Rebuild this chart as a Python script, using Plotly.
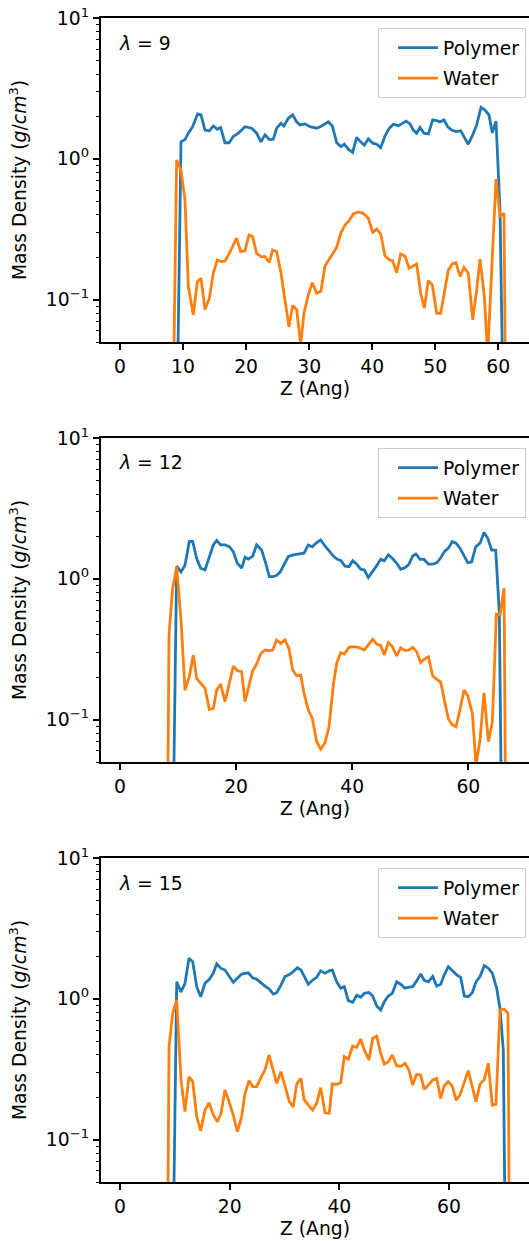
import plotly.graph_objects as go

# ---------------- density profiles (Z in Angstrom, density in g/cm^3) ----------------
# lambda = 9
z_poly_9 = [8.99, 9.68, 10.31, 10.84, 11.52, 12.32, 12.85, 13.48, 14.17, 14.80, 15.43, 15.97, 16.65, 17.29,
            17.97, 18.77, 19.83, 20.88, 21.68, 22.36, 23.00, 23.68, 24.32, 24.85, 25.54, 26.00, 26.70, 27.39,
            28.02, 28.55, 29.34, 30.13, 31.20, 31.99, 33.04, 33.68, 34.37, 35.05, 35.58, 36.21, 36.90, 37.54,
            38.17, 38.75, 39.39, 40.08, 40.71, 41.35, 42.03, 42.72, 43.35, 44.14, 44.68, 45.36, 46.00, 46.52,
            47.06, 47.58, 48.22, 48.90, 49.60, 50.23, 50.75, 51.39, 51.97, 52.61, 53.29, 54.04, 54.61, 55.24,
            55.94, 56.57, 57.26, 57.89, 58.52, 59.05, 59.64, 60.27, 60.86]
rho_poly_9 = [0.01, 1.32, 1.37, 1.52, 1.69, 2.08, 2.05, 1.60, 1.58, 1.71, 1.62, 1.67, 1.30, 1.30,
              1.44, 1.52, 1.69, 1.65, 1.52, 1.32, 1.48, 1.37, 1.38, 1.65, 1.79, 1.71, 1.94, 2.05,
              1.83, 1.74, 1.77, 1.69, 1.65, 1.71, 1.83, 1.71, 1.30, 1.22, 1.27, 1.17, 1.11, 1.42,
              1.32, 1.25, 1.39, 1.29, 1.27, 1.20, 1.45, 1.65, 1.76, 1.72, 1.77, 1.85, 1.77, 1.60,
              1.52, 1.67, 1.52, 1.50, 1.89, 1.87, 1.83, 1.89, 1.69, 1.60, 1.56, 1.58, 1.42, 1.27,
              1.48, 1.74, 2.32, 2.22, 2.05, 1.53, 1.85, 0.43, 0.01]
z_water_9 = [8.35, 8.99, 9.68, 10.31, 10.84, 11.63, 12.27, 12.85, 13.48, 14.17, 14.80, 15.43, 16.12, 16.65,
             17.34, 17.97, 18.50, 19.14, 19.83, 20.46, 21.04, 21.68, 22.36, 23.00, 23.68, 24.21, 24.85, 25.54,
             26.17, 26.80, 27.39, 28.02, 28.66, 29.18, 29.87, 30.50, 31.20, 31.88, 32.51, 33.20, 33.83, 34.37,
             35.05, 35.69, 36.32, 37.00, 37.80, 38.59, 39.39, 40.08, 40.71, 41.35, 42.03, 42.72, 43.25, 43.88,
             44.52, 45.20, 45.84, 46.52, 47.06, 47.69, 48.27, 48.90, 49.54, 50.23, 50.86, 51.44, 52.07, 52.71,
             53.29, 53.93, 54.56, 55.24, 55.94, 56.57, 57.10, 57.79, 58.31, 59.64, 60.27, 60.90, 61.22]
rho_water_9 = [0.01, 0.98, 0.83, 0.51, 0.124, 0.078, 0.134, 0.142, 0.085, 0.102, 0.154, 0.191, 0.186, 0.188,
               0.213, 0.244, 0.273, 0.219, 0.222, 0.288, 0.280, 0.213, 0.202, 0.202, 0.184, 0.225, 0.219, 0.154,
               0.100, 0.064, 0.091, 0.085, 0.048, 0.080, 0.108, 0.132, 0.111, 0.115, 0.173, 0.193, 0.215, 0.235,
               0.299, 0.339, 0.363, 0.406, 0.419, 0.410, 0.378, 0.300, 0.317, 0.292, 0.205, 0.191, 0.189, 0.155,
               0.211, 0.204, 0.167, 0.174, 0.179, 0.111, 0.087, 0.136, 0.127, 0.080, 0.080, 0.112, 0.162, 0.179,
               0.183, 0.146, 0.169, 0.154, 0.072, 0.117, 0.194, 0.105, 0.040, 0.719, 0.392, 0.410, 0.01]

# lambda = 12
z_poly_12 = [9.07, 9.76, 10.51, 11.20, 11.94, 12.52, 13.20, 13.90, 14.64, 15.39, 16.08, 16.65, 17.34, 18.09,
             18.83, 19.52, 20.21, 20.96, 21.53, 22.10, 22.86, 23.54, 24.40, 25.10, 25.72, 26.41, 26.99, 27.56,
             28.31, 29.00, 29.86, 30.72, 31.70, 32.44, 33.13, 33.88, 34.57, 35.31, 36.06, 36.75, 37.44, 38.07,
             38.76, 39.45, 40.08, 40.77, 41.46, 42.09, 42.78, 43.53, 44.22, 44.91, 45.53, 46.22, 46.91, 47.66,
             48.35, 49.10, 49.78, 50.42, 50.99, 51.68, 52.37, 53.11, 53.87, 54.56, 55.25, 55.87, 56.56, 57.25,
             57.88, 58.57, 59.26, 59.90, 60.58, 61.27, 62.02, 62.70, 63.34, 64.03, 64.72, 65.34, 65.80]
rho_poly_12 = [0.01, 1.23, 1.12, 1.25, 1.84, 1.84, 1.40, 1.19, 1.155, 1.44, 1.74, 1.87, 1.74, 1.74,
               1.69, 1.56, 1.29, 1.19, 1.42, 1.38, 1.45, 1.74, 1.60, 1.29, 1.035, 1.035, 1.06, 1.11,
               1.29, 1.44, 1.48, 1.50, 1.52, 1.74, 1.69, 1.81, 1.89, 1.71, 1.56, 1.45, 1.375, 1.345,
               1.23, 1.22, 1.345, 1.27, 1.17, 1.155, 1.02, 1.12, 1.24, 1.375, 1.345, 1.48, 1.40, 1.29,
               1.17, 1.20, 1.27, 1.45, 1.50, 1.375, 1.375, 1.27, 1.27, 1.30, 1.41, 1.56, 1.65, 1.84,
               1.79, 1.65, 1.44, 1.30, 1.32, 1.69, 1.79, 2.13, 1.94, 1.60, 1.60, 0.569, 0.01]
z_water_12 = [8.15, 8.44, 9.07, 9.76, 10.51, 11.20, 11.94, 12.63, 13.20, 13.95, 14.64, 15.39, 16.08, 16.65,
              17.34, 18.09, 18.83, 19.52, 20.21, 20.96, 21.53, 22.19, 22.86, 23.54, 24.28, 25.00, 25.72, 26.30,
              26.99, 27.67, 28.42, 29.10, 29.74, 30.43, 31.12, 31.70, 32.44, 33.13, 33.88, 34.57, 35.31, 36.00,
              36.75, 37.32, 38.00, 38.65, 39.45, 40.20, 41.06, 42.09, 42.78, 43.53, 44.22, 44.91, 45.53, 46.22,
              46.91, 47.66, 48.35, 49.10, 49.78, 50.42, 51.10, 51.79, 52.40, 53.11, 53.87, 54.56, 55.25, 55.87,
              56.56, 57.25, 57.88, 58.57, 59.26, 59.90, 60.69, 61.32, 62.02, 62.70, 63.45, 64.14, 64.83, 65.46,
              66.15, 66.49]
rho_water_12 = [0.01, 0.399, 0.856, 1.22, 0.51, 0.162, 0.202, 0.288, 0.196, 0.181, 0.167, 0.118, 0.120, 0.162,
                0.179, 0.134, 0.181, 0.240, 0.2225, 0.219, 0.134, 0.176, 0.2225, 0.248, 0.296, 0.312, 0.309, 0.312,
                0.3675, 0.348, 0.3675, 0.321, 0.225, 0.205, 0.207, 0.154, 0.117, 0.102, 0.0697, 0.0615, 0.0686, 0.089,
                0.176, 0.251, 0.2986, 0.292, 0.326, 0.330, 0.326, 0.312, 0.339, 0.372, 0.344, 0.335, 0.288, 0.352,
                0.330, 0.283, 0.324, 0.309, 0.312, 0.326, 0.304, 0.254, 0.268, 0.280, 0.204, 0.193, 0.184, 0.138,
                0.101, 0.0916, 0.089, 0.118, 0.162, 0.148, 0.111, 0.048, 0.0716, 0.155, 0.0697, 0.0966, 0.56, 0.553,
                0.856, 0.01]

# lambda = 15
z_poly_15 = [9.61, 10.34, 11.13, 11.85, 12.58, 13.26, 13.99, 14.71, 15.50, 16.29, 17.02, 17.63, 18.36, 19.15,
             19.94, 20.66, 21.40, 22.19, 23.40, 24.20, 24.93, 25.72, 26.45, 27.24, 27.96, 28.58, 29.36, 30.09,
             30.88, 31.61, 32.34, 33.01, 33.56, 34.35, 35.14, 35.87, 36.60, 37.39, 38.17, 38.72, 39.52, 40.25,
             40.91, 41.64, 42.44, 43.17, 43.90, 44.56, 45.41, 46.09, 46.82, 47.55, 48.20, 48.94, 49.66, 50.47,
             51.19, 51.98, 52.71, 53.38, 54.11, 54.84, 55.50, 56.23, 57.03, 57.76, 58.49, 59.15, 59.88, 60.61,
             61.41, 62.14, 62.79, 63.52, 64.25, 64.93, 65.66, 66.45, 67.18, 67.90, 68.70, 69.31, 69.91, 70.34]
rho_poly_15 = [0.01, 1.32, 1.12, 1.29, 1.94, 1.83, 1.22, 1.035, 1.29, 1.375, 1.52, 1.77, 1.65, 1.60,
               1.44, 1.31, 1.40, 1.50, 1.53, 1.41, 1.375, 1.29, 1.23, 1.17, 1.08, 1.105, 1.25, 1.44,
               1.49, 1.56, 1.66, 1.60, 1.44, 1.27, 1.36, 1.42, 1.58, 1.52, 1.58, 1.60, 1.32, 1.19,
               1.22, 0.97, 0.944, 1.06, 1.025, 1.094, 1.11, 1.047, 0.889, 0.833, 0.954, 1.047, 1.094, 1.32,
               1.27, 1.19, 1.21, 1.22, 1.34, 1.50, 1.35, 1.32, 1.44, 1.23, 1.27, 1.48, 1.69, 1.58,
               1.48, 1.42, 1.047, 1.035, 1.105, 1.32, 1.44, 1.72, 1.65, 1.52, 1.19, 0.856, 0.433, 0.01]
z_water_15 = [8.63, 8.94, 9.61, 10.34, 11.13, 11.85, 12.58, 13.26, 13.99, 14.71, 15.50, 16.23, 17.02, 17.75,
              18.42, 19.15, 19.94, 20.66, 21.40, 22.19, 22.80, 23.53, 24.20, 24.93, 25.72, 26.45, 27.18, 27.85,
              28.58, 29.36, 30.09, 30.88, 31.61, 32.22, 33.01, 33.56, 34.35, 35.14, 35.87, 36.60, 37.39, 38.17,
              38.72, 39.52, 40.25, 40.91, 41.64, 42.44, 43.17, 43.90, 44.56, 45.41, 46.09, 46.82, 47.55, 48.20,
              48.94, 49.66, 50.47, 51.19, 51.98, 52.71, 53.38, 54.11, 54.84, 55.50, 56.23, 57.03, 57.76, 58.49,
              59.15, 59.88, 60.61, 61.29, 62.00, 62.79, 63.52, 64.25, 64.93, 65.66, 66.45, 67.18, 67.90, 68.57,
              69.31, 70.04, 70.77, 71.07]
rho_water_15 = [0.01, 0.457, 0.789, 0.98, 0.265, 0.158, 0.280, 0.258, 0.1455, 0.1157, 0.162, 0.183, 0.1496, 0.134,
                0.154, 0.225, 0.183, 0.1496, 0.1137, 0.1455, 0.213, 0.262, 0.238, 0.238, 0.277, 0.312, 0.399, 0.321,
                0.251, 0.304, 0.238, 0.186, 0.171, 0.248, 0.272, 0.193, 0.176, 0.162, 0.181, 0.234, 0.155, 0.154,
                0.248, 0.247, 0.2535, 0.388, 0.372, 0.462, 0.452, 0.518, 0.433, 0.3675, 0.524, 0.544, 0.410, 0.344,
                0.3575, 0.399, 0.335, 0.330, 0.348, 0.312, 0.244, 0.291, 0.288, 0.2276, 0.244, 0.265, 0.272, 0.196,
                0.2415, 0.258, 0.240, 0.191, 0.207, 0.251, 0.309, 0.238, 0.186, 0.248, 0.268, 0.348, 0.176, 0.178,
                0.833, 0.847, 0.789, 0.01]

lambdas = [9, 12, 15]
x_dticks = [10, 20, 20]
x_ranges = [[-3.01, 64.87], [-3.27, 70.45], [-3.47, 74.6]]
series_names = ["Polymer", "Water"]
y_tickvals = [0.1, 1, 10]
y_ticktext = ["10<sup>\u22121</sup>", "10<sup>0</sup>", "10<sup>1</sup>"]
y_minor = [0.05, 0.06, 0.07, 0.08, 0.09, 0.2, 0.3, 0.4, 0.5, 0.6, 0.7, 0.8, 0.9,
           2, 3, 4, 5, 6, 7, 8, 9]

panels = [
    (z_poly_9, rho_poly_9, z_water_9, rho_water_9),
    (z_poly_12, rho_poly_12, z_water_12, rho_water_12),
    (z_poly_15, rho_poly_15, z_water_15, rho_water_15),
]

# ---------------- layout geometry (pixels) ----------------
W, H = 529, 1241
AX_LEFT = 101
AX_TOPS = [18, 438, 858]
AX_H = 324
FONT = "DejaVu Sans"
FS = 18.75
BLUE, ORANGE = "#1f77b4", "#ff7f0e"


def fx(p):
    return p / W


def fy(p):
    return 1 - p / H


fig = go.Figure()
layout = dict(
    width=W, height=H,
    margin=dict(l=0, r=0, t=0, b=0),
    paper_bgcolor="white", plot_bgcolor="white",
    font=dict(family=FONT, size=FS, color="black"),
    showlegend=True,
    annotations=[],
)

for i, (zp, rp, zw, rw) in enumerate(panels):
    n = "" if i == 0 else str(i + 1)
    xa, ya = "x" + n, "y" + n
    leg = "legend" + n
    fig.add_trace(go.Scatter(x=zp, y=rp, mode="lines", name=series_names[0],
                             legendgroup="p%d" % i,
                             line=dict(color=BLUE, width=2.8), xaxis=xa, yaxis=ya, legend=leg))
    fig.add_trace(go.Scatter(x=zw, y=rw, mode="lines", name=series_names[1],
                             legendgroup="w%d" % i,
                             line=dict(color=ORANGE, width=2.8), xaxis=xa, yaxis=ya, legend=leg))

    top = AX_TOPS[i]
    bottom = top + AX_H
    layout["xaxis" + n] = dict(
        domain=[fx(AX_LEFT), 1.0], anchor=ya, range=x_ranges[i],
        tickmode="linear", tick0=0, dtick=x_dticks[i],
        ticks="outside", ticklen=6.5, tickwidth=1.5, tickcolor="black",
        showline=True, linecolor="black", linewidth=1.5, mirror=True,
        showgrid=False, zeroline=False, automargin=False,
        tickfont=dict(family=FONT, size=FS, color="black"),
        title=dict(text="Z (Ang)", font=dict(family=FONT, size=FS, color="black"), standoff=6),
    )
    layout["yaxis" + n] = dict(
        domain=[fy(bottom), fy(top)], anchor=xa, type="log",
        range=[-1.30103, 1.0],
        tickmode="array", tickvals=y_tickvals, ticktext=y_ticktext,
        ticks="outside", ticklen=6.5, tickwidth=1.5, tickcolor="black",
        minor=dict(tickmode="array", tickvals=y_minor, ticks="outside", ticklen=3.7,
                   tickwidth=1.1, tickcolor="black", showgrid=False),
        showline=True, linecolor="black", linewidth=1.5, mirror=False,
        showgrid=False, zeroline=False, automargin=False,
        tickfont=dict(family=FONT, size=FS, color="black"),
        title=dict(text="Mass Density (<i>g</i>/<i>cm</i><sup>3</sup>)",
                   font=dict(family=FONT, size=FS, color="black"), standoff=14),
    )
    layout[leg] = dict(
        x=fx(526), y=fy(top + 10), xanchor="right", yanchor="top",
        bgcolor="rgba(255,255,255,0.8)", bordercolor="#cccccc", borderwidth=1,
        font=dict(family=FONT, size=FS, color="black"),
        itemwidth=40, traceorder="grouped", tracegroupgap=3, indentation=14,
    )
    layout["annotations"].append(dict(
        x=fx(117), y=fy(top + 25), xref="paper", yref="paper",
        xanchor="left", yanchor="middle", showarrow=False,
        text="<i>\u03bb</i> = %d" % lambdas[i],
        font=dict(family=FONT, size=FS, color="black"),
    ))

fig.update_layout(**layout)
fig.write_html("out.html")
